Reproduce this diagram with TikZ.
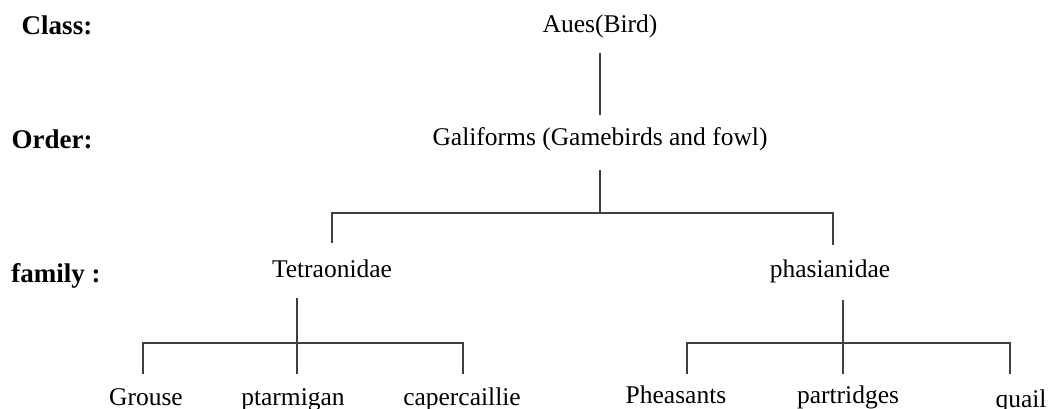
\documentclass[tikz,border=0pt]{standalone}
\usepackage{fontspec}
\setmainfont{Liberation Serif}
\begin{document}
\begin{tikzpicture}[x=1pt,y=-1pt,
  lbl/.style={font=\fontsize{27}{30}\selectfont\bfseries, anchor=base, inner sep=0pt},
  txt/.style={font=\fontsize{25.5}{28}\selectfont, anchor=base, inner sep=0pt},
  conn/.style={line width=1.2pt, draw=black!75}]
\useasboundingbox[fill=white] (0,0) rectangle (1057,409);
% level labels
\node[lbl] (class) at (57,35) {Class:};
\node[lbl] (order) at (52,148) {Order:};
\node[lbl] (family) at (56,282) {family :};
% taxa
\node[txt] (aues) at (600,33) {Aues(Bird)};
\node[txt] (gal) at (600,146) {Galiforms (Gamebirds and fowl)};
\node[txt] (tet) at (332,277) {Tetraonidae};
\node[txt] (pha) at (830,277) {phasianidae};
\node[txt] (grouse) at (146,405) {Grouse};
\node[txt] (ptar) at (293,405) {ptarmigan};
\node[txt] (cap) at (462,405) {capercaillie};
\node[txt] (phe) at (676,403) {Pheasants};
\node[txt] (par) at (848,403) {partridges};
\node[txt] (quail) at (1021,407) {quail};
% connector points
\coordinate (c1) at (600,53);
\coordinate (c2) at (600,115);
\coordinate (c3) at (600,170);
\coordinate (j1) at (600,213);
\coordinate (t1) at (332,213);
\coordinate (t2) at (332,243);
\coordinate (p1) at (833,213);
\coordinate (p2) at (833,245);
\coordinate (t3) at (297,298);
\coordinate (j3) at (297,374);
\coordinate (g1) at (143,343);
\coordinate (g2) at (143,374);
\coordinate (r1) at (463,343);
\coordinate (r2) at (463,374);
\coordinate (q1) at (843,300);
\coordinate (q2) at (843,374);
\coordinate (h1) at (687,343);
\coordinate (h2) at (687,374);
\coordinate (k1) at (1010,343);
\coordinate (k2) at (1010,374);
% connectors
\draw[conn] (c1) -- (c2);
\draw[conn] (c3) -- (j1);
\draw[conn] (t2) -- (t1) -- (p1) -- (p2);
\draw[conn] (t3) -- (j3);
\draw[conn] (g2) -- (g1) -- (r1) -- (r2);
\draw[conn] (q1) -- (q2);
\draw[conn] (h2) -- (h1) -- (k1) -- (k2);
\end{tikzpicture}
\end{document}
